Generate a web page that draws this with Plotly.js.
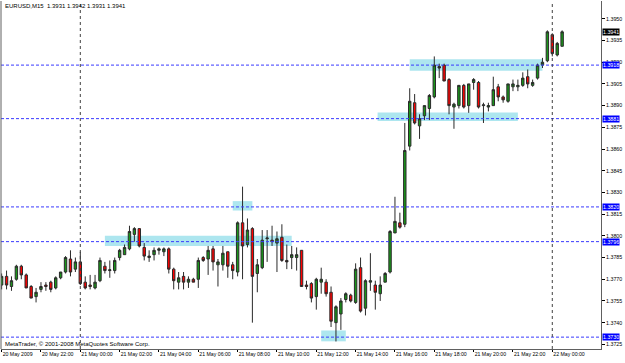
<!DOCTYPE html>
<html>
<head>
<meta charset="utf-8">
<script src="https://cdn.plot.ly/plotly-3.0.1.min.js"></script>
<style>html,body{margin:0;padding:0;background:#fff;}#chart{width:625px;height:363px;}</style>
</head>
<body>
<div id="chart"></div>
<script>
// ---- data (EURUSD M15, first bar 20 May 2009 20:00) ----
var firstBar = "2009-05-20T20:00:00";
var barMinutes = 15;
var opens = [
1.3766,1.3772,1.3765,1.3770,1.3779,1.3773,1.3765,1.3758,1.3763,1.3766,1.3768,1.3764,1.3771,1.3775,1.3784,1.3777,
1.3782,1.3768,1.3766,1.3764,1.3769,1.3779,1.3776,1.3776,1.3785,1.3787,1.3791,1.3801,1.3805,1.3792,1.3785,1.3787,
1.3790,1.3789,1.3791,1.3777,1.3768,1.3772,1.3768,1.3770,1.3770,1.3785,1.3784,1.3791,1.3780,1.3780,1.3789,1.3780,
1.3775,1.3809,1.3794,1.3805,1.3774,1.3778,1.3798,1.3797,1.3795,1.3799,1.3783,1.3785,1.3785,1.3790,1.3766,1.3767,
1.3758,1.3768,1.3768,1.3761,1.3740,1.3746,1.3756,1.3759,1.3754,1.3778,1.3750,1.3768,1.3766,1.3760,1.3768,1.3775,
1.3802,1.3809,1.3808,1.3862,1.3892,1.3876,1.3883,1.3888,1.3896,1.3917,1.3918,1.3908,1.3889,1.3890,1.3904,1.3890,
1.3906,1.3906,1.3890,1.3889,1.3890,1.3903,1.3896,1.3893,1.3903,1.3903,1.3904,1.3910,1.3904,1.3909,1.3918,1.3921,
1.3939,1.3925,1.3931];
var highs = [
1.3774,1.3776,1.3772,1.3780,1.3780,1.3774,1.3766,1.3764,1.3768,1.3768,1.3769,1.3772,1.3775,1.3786,1.3790,1.3785,
1.3789,1.3772,1.3773,1.3773,1.3785,1.3782,1.3783,1.3785,1.3791,1.3794,1.3807,1.3806,1.3805,1.3795,1.3790,1.3792,
1.3792,1.3792,1.3792,1.3778,1.3775,1.3775,1.3772,1.3771,1.3785,1.3786,1.3793,1.3793,1.3784,1.3793,1.3789,1.3782,
1.3810,1.3834,1.3812,1.3806,1.3784,1.3804,1.3804,1.3807,1.3803,1.3808,1.3794,1.3793,1.3792,1.3790,1.3769,1.3768,
1.3771,1.3778,1.3770,1.3765,1.3752,1.3757,1.3761,1.3760,1.3781,1.3785,1.3770,1.3788,1.3769,1.3772,1.3775,1.3804,
1.3827,1.3816,1.3878,1.3902,1.3898,1.3884,1.3890,1.3898,1.3924,1.3919,1.3919,1.3909,1.3892,1.3904,1.3905,1.3905,
1.3909,1.3907,1.3892,1.3892,1.3910,1.3905,1.3897,1.3905,1.3908,1.3908,1.3913,1.3915,1.3908,1.3919,1.3923,1.3942,
1.3940,1.3934,1.3942];
var lows = [
1.3763,1.3763,1.3762,1.3769,1.3770,1.3764,1.3757,1.3754,1.3761,1.3762,1.3761,1.3763,1.3770,1.3774,1.3772,1.3775,
1.3766,1.3763,1.3763,1.3763,1.3768,1.3774,1.3771,1.3774,1.3783,1.3787,1.3790,1.3796,1.3792,1.3783,1.3782,1.3783,
1.3787,1.3786,1.3774,1.3763,1.3763,1.3763,1.3764,1.3768,1.3764,1.3782,1.3773,1.3776,1.3765,1.3776,1.3771,1.3770,
1.3772,1.3770,1.3792,1.3740,1.3761,1.3777,1.3782,1.3793,1.3775,1.3782,1.3777,1.3777,1.3776,1.3765,1.3763,1.3754,
1.3749,1.3760,1.3758,1.3737,1.3727,1.3735,1.3754,1.3754,1.3753,1.3747,1.3745,1.3762,1.3749,1.3755,1.3768,1.3774,
1.3802,1.3805,1.3806,1.3859,1.3877,1.3867,1.3880,1.3880,1.3895,1.3909,1.3907,1.3884,1.3874,1.3888,1.3888,1.3885,
1.3901,1.3888,1.3878,1.3886,1.3890,1.3893,1.3892,1.3892,1.3900,1.3900,1.3903,1.3902,1.3903,1.3908,1.3916,1.3920,
1.3924,1.3924,1.3931];
var closes = [
1.3772,1.3766,1.3769,1.3779,1.3773,1.3764,1.3757,1.3761,1.3765,1.3765,1.3763,1.3771,1.3775,1.3785,1.3775,1.3782,
1.3767,1.3764,1.3765,1.3768,1.3783,1.3776,1.37765,1.3783,1.3790,1.3792,1.3803,1.3805,1.3793,1.3786,1.3786,1.3790,
1.3791,1.3791,1.3777,1.3769,1.3771,1.3768,1.3770,1.3768,1.3783,1.3783,1.3790,1.3782,1.3782,1.3788,1.3779,1.3776,
1.3809,1.3793,1.3804,1.3772,1.3780,1.3797,1.37985,1.3796,1.3798,1.3783,1.3782,1.3787,1.3787,1.3765,1.3765,1.3757,
1.3770,1.3770,1.3760,1.3741,1.3751,1.3755,1.3760,1.3755,1.3777,1.3748,1.3769,1.3769,1.3761,1.3766,1.3774,1.3803,
1.3810,1.3806,1.3859,1.3893,1.3878,1.3881,1.3890,1.3897,1.3918,1.3916,1.3907,1.3890,1.3891,1.3904,1.3889,1.3905,
1.3908,1.3889,1.38905,1.3890,1.3901,1.3896,1.3894,1.3905,1.3905,1.3904,1.3909,1.3905,1.3906,1.3918,1.3920,1.3941,
1.3926,1.3933,1.3941];

var tickTimes = ["2009-05-20 20:00","2009-05-20 22:00","2009-05-21 00:00","2009-05-21 02:00","2009-05-21 04:00",
  "2009-05-21 06:00","2009-05-21 08:00","2009-05-21 10:00","2009-05-21 12:00","2009-05-21 14:00","2009-05-21 16:00",
  "2009-05-21 18:00","2009-05-21 20:00","2009-05-21 22:00","2009-05-22 00:00"];
var tickLabels = ["20 May 2009","20 May 22:00","21 May 00:00","21 May 02:00","21 May 04:00","21 May 06:00",
  "21 May 08:00","21 May 10:00","21 May 12:00","21 May 14:00","21 May 16:00","21 May 18:00","21 May 20:00",
  "21 May 22:00","22 May 00:00"];
var priceTicks = [1.3725,1.3740,1.3755,1.3770,1.3785,1.3800,1.3815,1.3830,1.3845,1.3860,1.3875,1.3890,1.3905,1.3920,1.3935,1.3950];

var levelPrices = [1.3918, 1.3881, 1.3820, 1.3796, 1.3730];
var daySeparators = ["2009-05-21 00:00", "2009-05-22 00:00"];
var zoneStart = ["2009-05-21 16:45","2009-05-21 15:07","2009-05-21 07:45","2009-05-21 01:15","2009-05-21 12:15"];
var zoneEnd   = ["2009-05-21 23:30","2009-05-21 22:15","2009-05-21 08:45","2009-05-21 10:45","2009-05-21 13:30"];
var zoneLow   = [1.39141, 1.38793, 1.38175, 1.37930, 1.37271];
var zoneHigh  = [1.39220, 1.38853, 1.38240, 1.38000, 1.37346];
var lastPrice = 1.3941;
var headerText = "EURUSD,M15  1.3931 1.3942 1.3931 1.3941";
var footerText = "MetaTrader, \u00a9 2001-2008 MetaQuotes Software Corp.";

// ---- build ----
function pad(n){return (n<10?"0":"")+n;}
var t0 = new Date(firstBar + "Z").getTime();
var times = opens.map(function(_, i){
  var d = new Date(t0 + i*barMinutes*60000);
  return d.getUTCFullYear()+"-"+pad(d.getUTCMonth()+1)+"-"+pad(d.getUTCDate())+" "+pad(d.getUTCHours())+":"+pad(d.getUTCMinutes());
});

var FONT = "Liberation Sans, Arial, sans-serif";
var wick = "#2a2a2a";
var trace = {
  type: "candlestick", x: times, open: opens, high: highs, low: lows, close: closes,
  increasing: {line: {color: wick, width: 1}, fillcolor: "#1a951a"},
  decreasing: {line: {color: wick, width: 1}, fillcolor: "#ff0000"},
  whiskerwidth: 0, hoverinfo: "none", showlegend: false
};

var shapes = [];
for (var i = 0; i < zoneStart.length; i++) {
  shapes.push({type: "rect", layer: "below", xref: "x", yref: "y", x0: zoneStart[i], x1: zoneEnd[i],
    y0: zoneLow[i], y1: zoneHigh[i], fillcolor: "#ade6ef", line: {width: 0}});
}
levelPrices.forEach(function(p){
  shapes.push({type: "line", xref: "paper", yref: "y", x0: 0, x1: 1, y0: p, y1: p,
    line: {color: "#3a3aff", width: 1, dash: "3px,2px"}});
});
daySeparators.forEach(function(t){
  shapes.push({type: "line", xref: "x", yref: "paper", x0: t, x1: t, y0: 0, y1: 1,
    line: {color: "#404040", width: 1, dash: "3px,3px"}});
});
// left frame
shapes.push({type: "line", xref: "paper", yref: "paper", x0: 0, x1: 0, y0: 0, y1: 1, line: {color: "#606060", width: 1}});

var annotations = [
  {xref: "paper", yref: "paper", x: 0, y: 1, xanchor: "left", yanchor: "top", xshift: 2, yshift: 0,
   text: headerText, showarrow: false, font: {family: FONT, size: 6, color: "#000"}},
  {xref: "paper", yref: "paper", x: 0, y: 0, xanchor: "left", yanchor: "bottom", xshift: 2, yshift: 0,
   text: footerText, showarrow: false, font: {family: FONT, size: 6, color: "#000"}}
];
levelPrices.forEach(function(p){
  annotations.push({xref: "paper", yref: "y", x: 1, y: p, xanchor: "left", yanchor: "middle", xshift: 1,
    text: p.toFixed(4), showarrow: false, bgcolor: "#0000ff", borderpad: 0,
    font: {family: FONT, size: 5.3, color: "#ffffff"}});
});
annotations.push({xref: "paper", yref: "y", x: 1, y: lastPrice, xanchor: "left", yanchor: "middle", xshift: 1,
  text: lastPrice.toFixed(4), showarrow: false, bgcolor: "#000000", borderpad: 0,
  font: {family: FONT, size: 5.3, color: "#ffffff"}});

var layout = {
  width: 625, height: 363,
  margin: {l: 1, r: 24, t: 1, b: 14, pad: 0},
  paper_bgcolor: "#ffffff", plot_bgcolor: "#ffffff",
  font: {family: FONT, size: 6, color: "#000"},
  showlegend: false,
  xaxis: {
    type: "date", range: ["2009-05-20 19:58:04", "2009-05-22 02:28:36"],
    rangeslider: {visible: false},
    tickvals: tickTimes, ticktext: tickLabels, ticklabelposition: "outside right", tickangle: 0,
    ticklabeloverflow: "allow",
    ticks: "outside", ticklen: 2, tickcolor: "#000", showgrid: false, zeroline: false,
    showline: true, linecolor: "#606060", linewidth: 1,
    tickfont: {family: FONT, size: 5.2, color: "#000"}, fixedrange: true
  },
  yaxis: {
    side: "right", range: [1.37218, 1.39623],
    tickvals: priceTicks, tickformat: ".4f", ticklabelshift: 3.5,
    ticks: "outside", ticklen: 3, tickcolor: "#000", showgrid: false, zeroline: false,
    showline: true, linecolor: "#606060", linewidth: 1,
    tickfont: {family: FONT, size: 5.3, color: "#000"}, fixedrange: true
  },
  shapes: shapes, annotations: annotations
};

Plotly.newPlot("chart", [trace], layout, {staticPlot: true, displayModeBar: false});
</script>
</body>
</html>
